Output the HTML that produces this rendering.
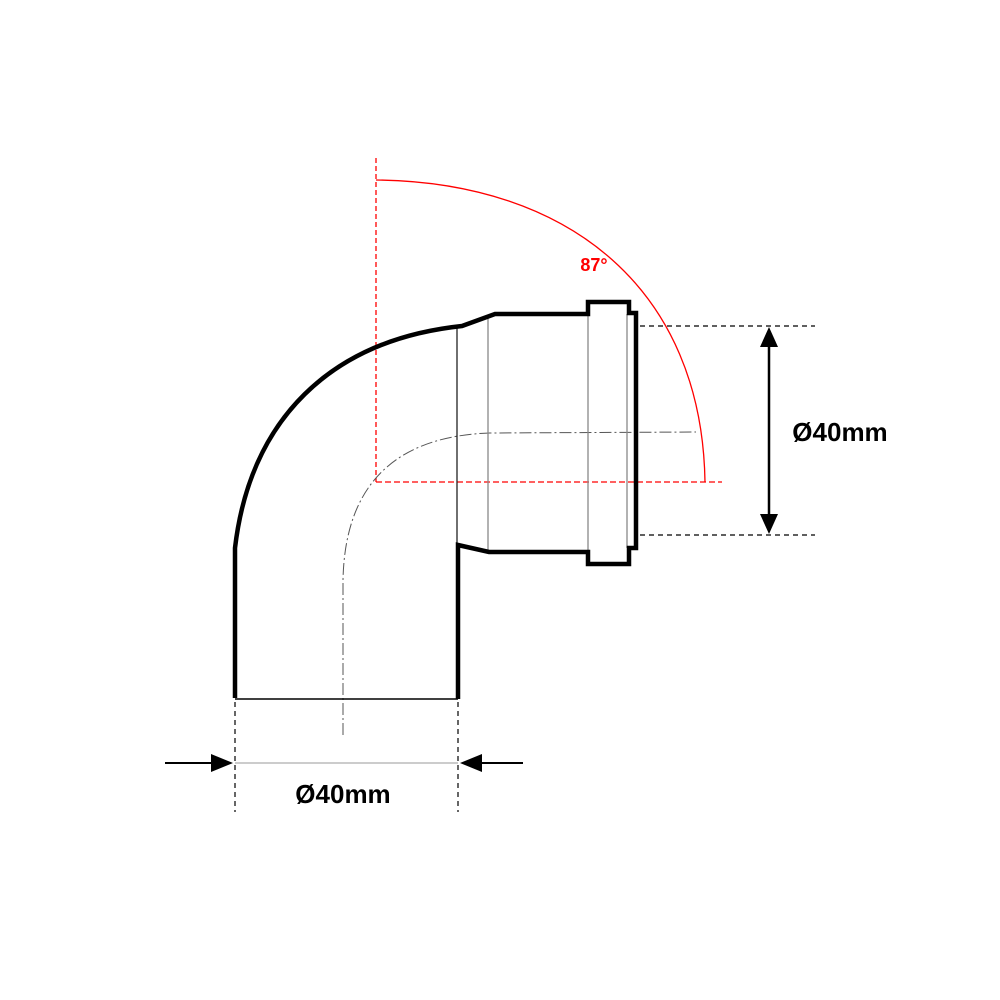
<!DOCTYPE html>
<html><head><style>body{margin:0;background:#fff}svg{display:block}</style></head><body>
<svg width="1000" height="1000" viewBox="0 0 1000 1000" xmlns="http://www.w3.org/2000/svg">
<rect width="1000" height="1000" fill="#fff"/>
<g stroke="#f00" stroke-width="1.3" fill="none">
<line x1="376" y1="158" x2="376" y2="482" stroke-dasharray="5,3"/>
<line x1="376" y1="482" x2="722" y2="482" stroke-dasharray="6,3"/>
<path d="M376,180 C570,182 702,290 705,482"/>
</g>
<text x="594" y="271" font-family="Liberation Sans, sans-serif" font-size="18" font-weight="bold" fill="#f00" text-anchor="middle">87°</text>
<path d="M343,735 L343,580 C345,480 400,436 490,433 L696,432" fill="none" stroke="#555" stroke-width="1" stroke-dasharray="12,3,2,3"/>
<g stroke-width="1.3">
<line x1="457" y1="327" x2="457" y2="545" stroke="#222"/>
<line x1="488" y1="318" x2="488" y2="552" stroke="#888"/>
<line x1="588" y1="316" x2="588" y2="552" stroke="#888"/>
<line x1="627" y1="314" x2="627" y2="548" stroke="#888"/>
</g>
<line x1="235" y1="699" x2="458" y2="699" stroke="#000" stroke-width="1.5"/>
<path d="M235,698 L235,548 C250,420 330,340 462,326 L495,314 L588,314 L588,302 L629,302 L629,313 L636,313 L636,548 L629,548 L629,564 L588,564 L588,552 L489,552 L458,545 L458,699" fill="none" stroke="#000" stroke-width="4.5" stroke-linejoin="miter"/>
<g stroke="#000" stroke-width="1.2" stroke-dasharray="5,4">
<line x1="640" y1="326" x2="815" y2="326"/>
<line x1="640" y1="535" x2="815" y2="535"/>
<line x1="235" y1="702" x2="235" y2="812"/>
<line x1="458" y1="702" x2="458" y2="812"/>
</g>
<line x1="769" y1="340" x2="769" y2="520" stroke="#000" stroke-width="2.5"/>
<polygon points="769,327 760,347 778,347" fill="#000"/>
<polygon points="769,534 760,514 778,514" fill="#000"/>
<text x="840" y="441" font-family="Liberation Sans, sans-serif" font-size="26" font-weight="bold" text-anchor="middle">Ø40mm</text>
<line x1="235" y1="763" x2="458" y2="763" stroke="#999" stroke-width="1"/>
<line x1="165" y1="763" x2="215" y2="763" stroke="#000" stroke-width="2"/>
<polygon points="233,763 211,754 211,772" fill="#000"/>
<line x1="478" y1="763" x2="523" y2="763" stroke="#000" stroke-width="2"/>
<polygon points="460,763 482,754 482,772" fill="#000"/>
<text x="343" y="803" font-family="Liberation Sans, sans-serif" font-size="26" font-weight="bold" text-anchor="middle">Ø40mm</text>
</svg>
</body></html>
